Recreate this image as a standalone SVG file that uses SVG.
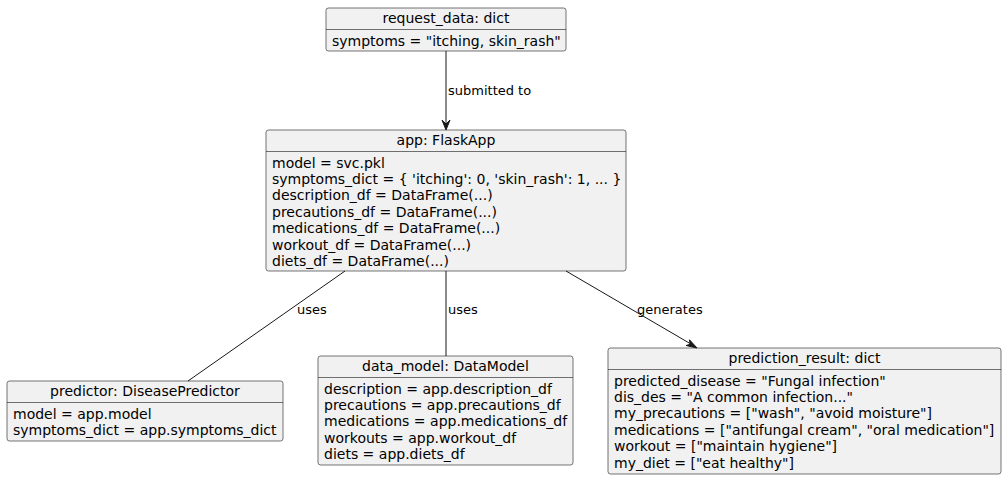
<svg xmlns="http://www.w3.org/2000/svg" width="1007" height="480" viewBox="0 0 1007 480">
<style>
text{font-family:"DejaVu Sans",sans-serif;fill:#000}
.box{fill:#F1F1F1;stroke:#181818;stroke-width:0.6}
.sep{stroke:#181818;stroke-width:0.6}
.t{font-size:14px;text-anchor:middle}
.a{font-size:14px}
.lbl{font-size:13px}
.edge{stroke:#181818;stroke-width:1;fill:none}
.head{fill:#181818;stroke:#181818;stroke-width:1}
</style>
<rect width="1007" height="480" fill="#FFFFFF"/>
<g id="request_data">
<rect class="box" x="326" y="8" width="240" height="43" rx="2.5"/>
<text class="t" x="446" y="23">request_data: dict</text>
<line class="sep" x1="326" y1="29.5" x2="566" y2="29.5"/>
<text class="a" x="332" y="45.5">symptoms = "itching, skin_rash"</text>
</g>
<g id="app">
<rect class="box" x="266" y="130" width="360" height="141" rx="2.5"/>
<text class="t" x="446" y="145">app: FlaskApp</text>
<line class="sep" x1="266" y1="151.5" x2="626" y2="151.5"/>
<text class="a" x="272" y="167.5">model = svc.pkl</text>
<text class="a" x="272" y="183.9">symptoms_dict = { 'itching': 0, 'skin_rash': 1, ... }</text>
<text class="a" x="272" y="200.3">description_df = DataFrame(...)</text>
<text class="a" x="272" y="216.7">precautions_df = DataFrame(...)</text>
<text class="a" x="272" y="233.1">medications_df = DataFrame(...)</text>
<text class="a" x="272" y="249.5">workout_df = DataFrame(...)</text>
<text class="a" x="272" y="265.9">diets_df = DataFrame(...)</text>
</g>
<g id="predictor">
<rect class="box" x="7" y="381" width="276" height="60" rx="2.5"/>
<text class="t" x="145" y="396">predictor: DiseasePredictor</text>
<line class="sep" x1="7" y1="402.5" x2="283" y2="402.5"/>
<text class="a" x="13" y="418.5">model = app.model</text>
<text class="a" x="13" y="434.9">symptoms_dict = app.symptoms_dict</text>
</g>
<g id="data_model">
<rect class="box" x="318" y="356" width="255" height="109" rx="2.5"/>
<text class="t" x="445.5" y="371">data_model: DataModel</text>
<line class="sep" x1="318" y1="377.5" x2="573" y2="377.5"/>
<text class="a" x="324" y="393.5">description = app.description_df</text>
<text class="a" x="324" y="409.9">precautions = app.precautions_df</text>
<text class="a" x="324" y="426.3">medications = app.medications_df</text>
<text class="a" x="324" y="442.7">workouts = app.workout_df</text>
<text class="a" x="324" y="459.1">diets = app.diets_df</text>
</g>
<g id="prediction_result">
<rect class="box" x="608" y="348" width="393" height="126" rx="2.5"/>
<text class="t" x="804.5" y="363">prediction_result: dict</text>
<line class="sep" x1="608" y1="369.5" x2="1001" y2="369.5"/>
<text class="a" x="614" y="385.5">predicted_disease = "Fungal infection"</text>
<text class="a" x="614" y="401.9">dis_des = "A common infection..."</text>
<text class="a" x="614" y="418.3">my_precautions = ["wash", "avoid moisture"]</text>
<text class="a" x="614" y="434.7">medications = ["antifungal cream", "oral medication"]</text>
<text class="a" x="614" y="451.1">workout = ["maintain hygiene"]</text>
<text class="a" x="614" y="467.5">my_diet = ["eat healthy"]</text>
</g>
<g id="connectors">
<line class="edge" x1="446" y1="51" x2="446" y2="129"/>
<polygon class="head" points="442,120 446,130 450,120 446,124"/>
<text class="lbl" x="448" y="95">submitted to</text>
<line class="edge" x1="345" y1="271" x2="188" y2="381"/>
<text class="lbl" x="297" y="314">uses</text>
<line class="edge" x1="446" y1="271" x2="446" y2="356"/>
<text class="lbl" x="448" y="314">uses</text>
<line class="edge" x1="566" y1="271" x2="696" y2="347"/>
<polygon class="head" points="686.1,345.5 697,348 689.5,339.8 690.1,344.3"/>
<text class="lbl" x="637" y="314">generates</text>
</g>
</svg>
